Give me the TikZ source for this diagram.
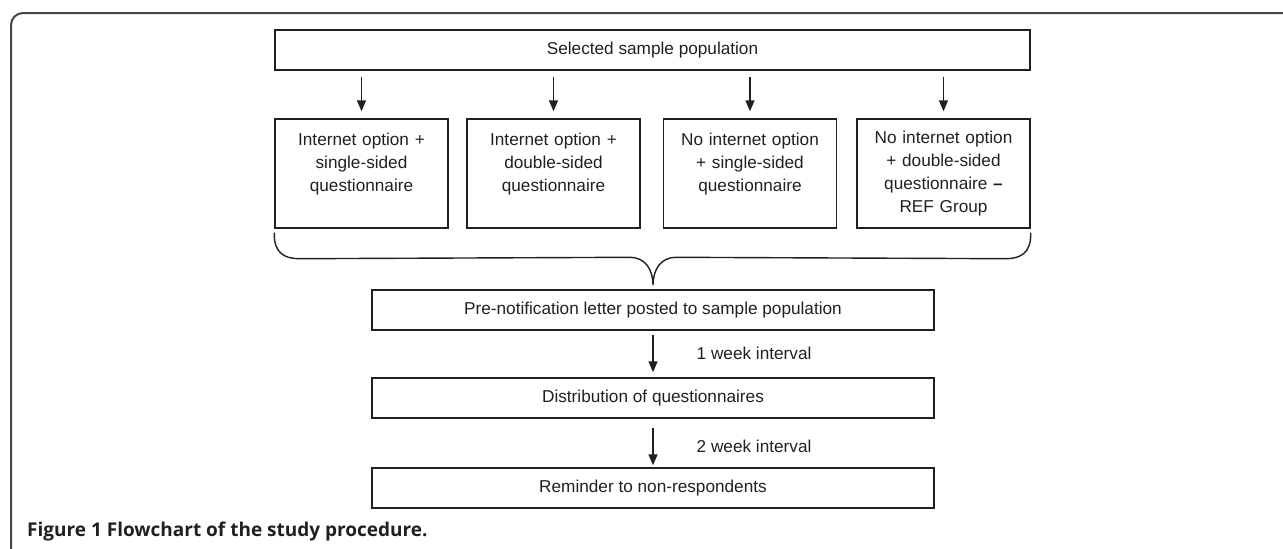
\documentclass[tikz,border=0pt]{standalone}
\usepackage{fontspec}
\setmainfont{Liberation Sans}
\newfontfamily\capfont{Open Sans}
\usepackage{tikz}
\usetikzlibrary{arrows.meta,calc,positioning}
\definecolor{boxline}{RGB}{35,31,32}
\definecolor{frameline}{RGB}{70,70,70}

\begin{document}
\begin{tikzpicture}[x=1pt,y=-1pt,
	every node/.style={font=\fontsize{17.2}{22.8}\selectfont, text=boxline},
	box/.style={draw=boxline, line width=1.4pt, minimum height=40, minimum width=562, inner sep=0pt},
	grp/.style={draw=boxline, line width=1.4pt, minimum width=173, minimum height=109, text width=170, align=center, inner sep=0pt},
	flow/.style={draw=boxline, line width=1.4pt, -{Triangle[length=11pt,width=9pt]}}]
\pgfmathsetmacro{\mid}{652.5}
\pgfmathsetmacro{\low}{653}
\useasboundingbox (0,0) rectangle (1283,549);
\clip (0,0) rectangle (1283,549);

%outer frame
\draw[frameline, line width=2pt, rounded corners=12] (11,570) -- (11,13) -- (1310,13);

\node[box, minimum width=755] (sel) at (\mid,50) {Selected sample population};
\node[grp] (g1) at (361.5,173.5) {Internet option +\\ single-sided\\ questionnaire\\ \mbox{}};
\node[grp] (g2) at (553.5,173.5) {Internet option +\\ double-sided\\ questionnaire\\ \mbox{}};
\node[grp] (g3) at (750,173.5) {No internet option\\ + single-sided\\ questionnaire\\ \mbox{}};
\node[grp] (g4) at (943.5,173.5) {No internet option\\ + double-sided\\ questionnaire \textbf{--}\\ REF Group};

\foreach \g in {g1,g2,g3,g4}{
	\draw[flow, shorten <=6pt, shorten >=7pt] (sel.south -| \g.north) -- (\g.north);
}

\node[box] (pre) at (\low,310) {Pre-notification letter posted to sample population};
\node[box] (dist) at (\low,398) {Distribution of questionnaires};
\node[box] (rem) at (\low,488) {Reminder to non-respondents};

%brace under the four groups
\coordinate (tip) at ($(pre.north)+(0,-4)$);
\draw[boxline, line width=1.4pt]
	($(g1.south west)+(0,4)$) -- ($(g1.south west)+(0,6)$)
	.. controls ($(g1.south west)+(0,24)$) and ($(g1.south west)+(10,30)$) .. ($(g1.south west)+(25,30)$)
	-- ($(tip)+(-23,-28)$)
	.. controls ($(tip)+(-8,-28)$) and ($(tip)+(0,-16)$) .. (tip)
	.. controls ($(tip)+(0,-16)$) and ($(tip)+(8,-28)$) .. ($(tip)+(23,-28)$)
	-- ($(g4.south east)+(-25,30)$)
	.. controls ($(g4.south east)+(-10,30)$) and ($(g4.south east)+(0,24)$) .. ($(g4.south east)+(0,6)$)
	-- ($(g4.south east)+(0,4)$);

\draw[flow, shorten <=4pt, shorten >=5pt] (pre) -- (dist)
	node[midway, anchor=west, inner sep=0pt, xshift=43pt, yshift=1pt] {1 week interval};
\draw[flow, shorten <=9pt, shorten >=2pt] (dist) -- (rem)
	node[midway, anchor=west, inner sep=0pt, xshift=43pt, yshift=-3pt] {2 week interval};

\node[anchor=west, inner sep=0pt, font=\capfont\bfseries\fontsize{19}{22}\selectfont] (cap) at (27,532) {Figure 1 Flowchart of the study procedure.};
\end{tikzpicture}
\end{document}
